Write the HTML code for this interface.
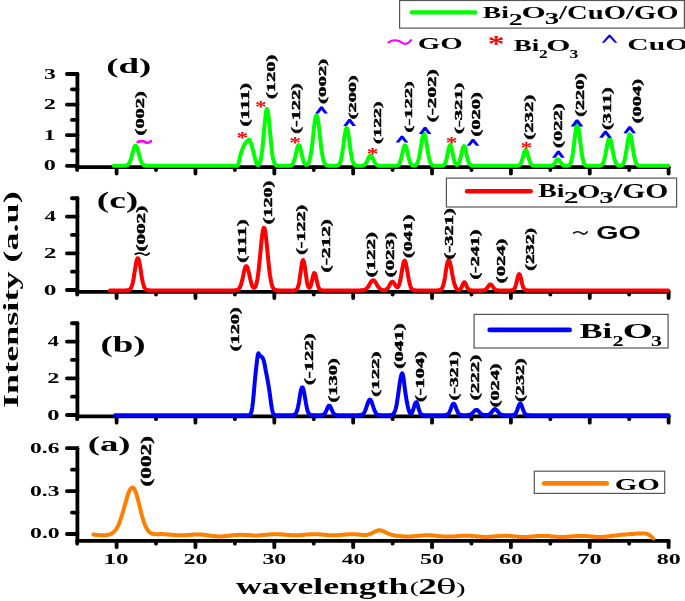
<!DOCTYPE html>
<html><head><meta charset="utf-8"><style>
html,body{margin:0;padding:0;background:#fff;width:685px;height:601px;overflow:hidden}
svg{display:block}
</style></head><body>
<svg width="685" height="601" viewBox="0 0 685 601">
<rect width="685" height="601" fill="#fff"/>
<line x1="77.40" y1="74.00" x2="77.40" y2="167.20" stroke="#000" stroke-width="3.8" stroke-linecap="round"/>
<line x1="77.40" y1="167.20" x2="668.62" y2="167.20" stroke="#000" stroke-width="3.8" stroke-linecap="round"/>
<line x1="66.90" y1="165.80" x2="77.40" y2="165.80" stroke="#000" stroke-width="3.8" stroke-linecap="round"/>
<line x1="66.90" y1="135.20" x2="77.40" y2="135.20" stroke="#000" stroke-width="3.8" stroke-linecap="round"/>
<line x1="66.90" y1="104.60" x2="77.40" y2="104.60" stroke="#000" stroke-width="3.8" stroke-linecap="round"/>
<line x1="66.90" y1="74.00" x2="77.40" y2="74.00" stroke="#000" stroke-width="3.8" stroke-linecap="round"/>
<line x1="71.90" y1="150.50" x2="77.40" y2="150.50" stroke="#000" stroke-width="3.8" stroke-linecap="round"/>
<line x1="71.90" y1="119.90" x2="77.40" y2="119.90" stroke="#000" stroke-width="3.8" stroke-linecap="round"/>
<line x1="71.90" y1="89.30" x2="77.40" y2="89.30" stroke="#000" stroke-width="3.8" stroke-linecap="round"/>
<line x1="77.17" y1="167.20" x2="77.17" y2="170.00" stroke="#000" stroke-width="3.8" stroke-linecap="round"/>
<line x1="116.60" y1="167.20" x2="116.60" y2="173.50" stroke="#000" stroke-width="3.8" stroke-linecap="round"/>
<line x1="156.03" y1="167.20" x2="156.03" y2="170.00" stroke="#000" stroke-width="3.8" stroke-linecap="round"/>
<line x1="195.46" y1="167.20" x2="195.46" y2="173.50" stroke="#000" stroke-width="3.8" stroke-linecap="round"/>
<line x1="234.89" y1="167.20" x2="234.89" y2="170.00" stroke="#000" stroke-width="3.8" stroke-linecap="round"/>
<line x1="274.32" y1="167.20" x2="274.32" y2="173.50" stroke="#000" stroke-width="3.8" stroke-linecap="round"/>
<line x1="313.75" y1="167.20" x2="313.75" y2="170.00" stroke="#000" stroke-width="3.8" stroke-linecap="round"/>
<line x1="353.18" y1="167.20" x2="353.18" y2="173.50" stroke="#000" stroke-width="3.8" stroke-linecap="round"/>
<line x1="392.61" y1="167.20" x2="392.61" y2="170.00" stroke="#000" stroke-width="3.8" stroke-linecap="round"/>
<line x1="432.04" y1="167.20" x2="432.04" y2="173.50" stroke="#000" stroke-width="3.8" stroke-linecap="round"/>
<line x1="471.47" y1="167.20" x2="471.47" y2="170.00" stroke="#000" stroke-width="3.8" stroke-linecap="round"/>
<line x1="510.90" y1="167.20" x2="510.90" y2="173.50" stroke="#000" stroke-width="3.8" stroke-linecap="round"/>
<line x1="550.33" y1="167.20" x2="550.33" y2="170.00" stroke="#000" stroke-width="3.8" stroke-linecap="round"/>
<line x1="589.76" y1="167.20" x2="589.76" y2="173.50" stroke="#000" stroke-width="3.8" stroke-linecap="round"/>
<line x1="629.19" y1="167.20" x2="629.19" y2="170.00" stroke="#000" stroke-width="3.8" stroke-linecap="round"/>
<line x1="668.62" y1="167.20" x2="668.62" y2="173.50" stroke="#000" stroke-width="3.8" stroke-linecap="round"/>
<line x1="77.40" y1="198.25" x2="77.40" y2="291.80" stroke="#000" stroke-width="3.8" stroke-linecap="round"/>
<line x1="77.40" y1="291.80" x2="668.62" y2="291.80" stroke="#000" stroke-width="3.8" stroke-linecap="round"/>
<line x1="66.90" y1="290.00" x2="77.40" y2="290.00" stroke="#000" stroke-width="3.8" stroke-linecap="round"/>
<line x1="66.90" y1="253.30" x2="77.40" y2="253.30" stroke="#000" stroke-width="3.8" stroke-linecap="round"/>
<line x1="66.90" y1="216.60" x2="77.40" y2="216.60" stroke="#000" stroke-width="3.8" stroke-linecap="round"/>
<line x1="71.90" y1="271.65" x2="77.40" y2="271.65" stroke="#000" stroke-width="3.8" stroke-linecap="round"/>
<line x1="71.90" y1="234.95" x2="77.40" y2="234.95" stroke="#000" stroke-width="3.8" stroke-linecap="round"/>
<line x1="71.90" y1="198.25" x2="77.40" y2="198.25" stroke="#000" stroke-width="3.8" stroke-linecap="round"/>
<line x1="77.17" y1="291.80" x2="77.17" y2="294.60" stroke="#000" stroke-width="3.8" stroke-linecap="round"/>
<line x1="116.60" y1="291.80" x2="116.60" y2="298.10" stroke="#000" stroke-width="3.8" stroke-linecap="round"/>
<line x1="156.03" y1="291.80" x2="156.03" y2="294.60" stroke="#000" stroke-width="3.8" stroke-linecap="round"/>
<line x1="195.46" y1="291.80" x2="195.46" y2="298.10" stroke="#000" stroke-width="3.8" stroke-linecap="round"/>
<line x1="234.89" y1="291.80" x2="234.89" y2="294.60" stroke="#000" stroke-width="3.8" stroke-linecap="round"/>
<line x1="274.32" y1="291.80" x2="274.32" y2="298.10" stroke="#000" stroke-width="3.8" stroke-linecap="round"/>
<line x1="313.75" y1="291.80" x2="313.75" y2="294.60" stroke="#000" stroke-width="3.8" stroke-linecap="round"/>
<line x1="353.18" y1="291.80" x2="353.18" y2="298.10" stroke="#000" stroke-width="3.8" stroke-linecap="round"/>
<line x1="392.61" y1="291.80" x2="392.61" y2="294.60" stroke="#000" stroke-width="3.8" stroke-linecap="round"/>
<line x1="432.04" y1="291.80" x2="432.04" y2="298.10" stroke="#000" stroke-width="3.8" stroke-linecap="round"/>
<line x1="471.47" y1="291.80" x2="471.47" y2="294.60" stroke="#000" stroke-width="3.8" stroke-linecap="round"/>
<line x1="510.90" y1="291.80" x2="510.90" y2="298.10" stroke="#000" stroke-width="3.8" stroke-linecap="round"/>
<line x1="550.33" y1="291.80" x2="550.33" y2="294.60" stroke="#000" stroke-width="3.8" stroke-linecap="round"/>
<line x1="589.76" y1="291.80" x2="589.76" y2="298.10" stroke="#000" stroke-width="3.8" stroke-linecap="round"/>
<line x1="629.19" y1="291.80" x2="629.19" y2="294.60" stroke="#000" stroke-width="3.8" stroke-linecap="round"/>
<line x1="668.62" y1="291.80" x2="668.62" y2="298.10" stroke="#000" stroke-width="3.8" stroke-linecap="round"/>
<line x1="77.40" y1="323.25" x2="77.40" y2="416.40" stroke="#000" stroke-width="3.8" stroke-linecap="round"/>
<line x1="77.40" y1="416.40" x2="668.62" y2="416.40" stroke="#000" stroke-width="3.8" stroke-linecap="round"/>
<line x1="66.90" y1="415.00" x2="77.40" y2="415.00" stroke="#000" stroke-width="3.8" stroke-linecap="round"/>
<line x1="66.90" y1="378.30" x2="77.40" y2="378.30" stroke="#000" stroke-width="3.8" stroke-linecap="round"/>
<line x1="66.90" y1="341.60" x2="77.40" y2="341.60" stroke="#000" stroke-width="3.8" stroke-linecap="round"/>
<line x1="71.90" y1="396.65" x2="77.40" y2="396.65" stroke="#000" stroke-width="3.8" stroke-linecap="round"/>
<line x1="71.90" y1="359.95" x2="77.40" y2="359.95" stroke="#000" stroke-width="3.8" stroke-linecap="round"/>
<line x1="71.90" y1="323.25" x2="77.40" y2="323.25" stroke="#000" stroke-width="3.8" stroke-linecap="round"/>
<line x1="77.17" y1="416.40" x2="77.17" y2="419.20" stroke="#000" stroke-width="3.8" stroke-linecap="round"/>
<line x1="116.60" y1="416.40" x2="116.60" y2="422.70" stroke="#000" stroke-width="3.8" stroke-linecap="round"/>
<line x1="156.03" y1="416.40" x2="156.03" y2="419.20" stroke="#000" stroke-width="3.8" stroke-linecap="round"/>
<line x1="195.46" y1="416.40" x2="195.46" y2="422.70" stroke="#000" stroke-width="3.8" stroke-linecap="round"/>
<line x1="234.89" y1="416.40" x2="234.89" y2="419.20" stroke="#000" stroke-width="3.8" stroke-linecap="round"/>
<line x1="274.32" y1="416.40" x2="274.32" y2="422.70" stroke="#000" stroke-width="3.8" stroke-linecap="round"/>
<line x1="313.75" y1="416.40" x2="313.75" y2="419.20" stroke="#000" stroke-width="3.8" stroke-linecap="round"/>
<line x1="353.18" y1="416.40" x2="353.18" y2="422.70" stroke="#000" stroke-width="3.8" stroke-linecap="round"/>
<line x1="392.61" y1="416.40" x2="392.61" y2="419.20" stroke="#000" stroke-width="3.8" stroke-linecap="round"/>
<line x1="432.04" y1="416.40" x2="432.04" y2="422.70" stroke="#000" stroke-width="3.8" stroke-linecap="round"/>
<line x1="471.47" y1="416.40" x2="471.47" y2="419.20" stroke="#000" stroke-width="3.8" stroke-linecap="round"/>
<line x1="510.90" y1="416.40" x2="510.90" y2="422.70" stroke="#000" stroke-width="3.8" stroke-linecap="round"/>
<line x1="550.33" y1="416.40" x2="550.33" y2="419.20" stroke="#000" stroke-width="3.8" stroke-linecap="round"/>
<line x1="589.76" y1="416.40" x2="589.76" y2="422.70" stroke="#000" stroke-width="3.8" stroke-linecap="round"/>
<line x1="629.19" y1="416.40" x2="629.19" y2="419.20" stroke="#000" stroke-width="3.8" stroke-linecap="round"/>
<line x1="668.62" y1="416.40" x2="668.62" y2="422.70" stroke="#000" stroke-width="3.8" stroke-linecap="round"/>
<line x1="77.40" y1="448.20" x2="77.40" y2="540.90" stroke="#000" stroke-width="3.8" stroke-linecap="round"/>
<line x1="77.40" y1="540.90" x2="668.62" y2="540.90" stroke="#000" stroke-width="3.8" stroke-linecap="round"/>
<line x1="66.90" y1="534.00" x2="77.40" y2="534.00" stroke="#000" stroke-width="3.8" stroke-linecap="round"/>
<line x1="66.90" y1="491.10" x2="77.40" y2="491.10" stroke="#000" stroke-width="3.8" stroke-linecap="round"/>
<line x1="66.90" y1="448.20" x2="77.40" y2="448.20" stroke="#000" stroke-width="3.8" stroke-linecap="round"/>
<line x1="71.90" y1="512.55" x2="77.40" y2="512.55" stroke="#000" stroke-width="3.8" stroke-linecap="round"/>
<line x1="71.90" y1="469.65" x2="77.40" y2="469.65" stroke="#000" stroke-width="3.8" stroke-linecap="round"/>
<line x1="77.17" y1="540.90" x2="77.17" y2="543.70" stroke="#000" stroke-width="3.8" stroke-linecap="round"/>
<line x1="116.60" y1="540.90" x2="116.60" y2="547.20" stroke="#000" stroke-width="3.8" stroke-linecap="round"/>
<line x1="156.03" y1="540.90" x2="156.03" y2="543.70" stroke="#000" stroke-width="3.8" stroke-linecap="round"/>
<line x1="195.46" y1="540.90" x2="195.46" y2="547.20" stroke="#000" stroke-width="3.8" stroke-linecap="round"/>
<line x1="234.89" y1="540.90" x2="234.89" y2="543.70" stroke="#000" stroke-width="3.8" stroke-linecap="round"/>
<line x1="274.32" y1="540.90" x2="274.32" y2="547.20" stroke="#000" stroke-width="3.8" stroke-linecap="round"/>
<line x1="313.75" y1="540.90" x2="313.75" y2="543.70" stroke="#000" stroke-width="3.8" stroke-linecap="round"/>
<line x1="353.18" y1="540.90" x2="353.18" y2="547.20" stroke="#000" stroke-width="3.8" stroke-linecap="round"/>
<line x1="392.61" y1="540.90" x2="392.61" y2="543.70" stroke="#000" stroke-width="3.8" stroke-linecap="round"/>
<line x1="432.04" y1="540.90" x2="432.04" y2="547.20" stroke="#000" stroke-width="3.8" stroke-linecap="round"/>
<line x1="471.47" y1="540.90" x2="471.47" y2="543.70" stroke="#000" stroke-width="3.8" stroke-linecap="round"/>
<line x1="510.90" y1="540.90" x2="510.90" y2="547.20" stroke="#000" stroke-width="3.8" stroke-linecap="round"/>
<line x1="550.33" y1="540.90" x2="550.33" y2="543.70" stroke="#000" stroke-width="3.8" stroke-linecap="round"/>
<line x1="589.76" y1="540.90" x2="589.76" y2="547.20" stroke="#000" stroke-width="3.8" stroke-linecap="round"/>
<line x1="629.19" y1="540.90" x2="629.19" y2="543.70" stroke="#000" stroke-width="3.8" stroke-linecap="round"/>
<line x1="668.62" y1="540.90" x2="668.62" y2="547.20" stroke="#000" stroke-width="3.8" stroke-linecap="round"/>
<path d="M113.8,165.8 L114.6,165.8 L115.4,165.8 L116.2,165.8 L117.0,165.8 L117.8,165.8 L118.6,165.8 L119.4,165.8 L120.1,165.8 L120.9,165.8 L121.7,165.8 L122.5,165.8 L123.3,165.8 L124.1,165.8 L124.9,165.7 L125.7,165.7 L126.5,165.5 L127.2,165.2 L128.0,164.7 L128.8,163.8 L129.6,162.5 L130.4,160.6 L131.2,158.2 L132.0,155.4 L132.8,152.3 L133.6,149.4 L134.3,147.2 L135.1,145.8 L135.9,145.7 L136.7,146.8 L137.5,148.9 L138.3,151.7 L139.1,154.8 L139.9,157.7 L140.7,160.2 L141.4,162.2 L142.2,163.6 L143.0,164.5 L143.8,165.1 L144.6,165.5 L145.4,165.6 L146.2,165.7 L147.0,165.8 L147.7,165.8 L148.5,165.8 L149.3,165.8 L150.1,165.8 L150.9,165.8 L151.7,165.8 L152.5,165.8 L153.3,165.8 L154.1,165.8 L154.8,165.8 L155.6,165.8 L156.4,165.8 L157.2,165.8 L158.0,165.8 L158.8,165.8 L159.6,165.8 L160.4,165.8 L161.2,165.8 L161.9,165.8 L162.7,165.8 L163.5,165.8 L164.3,165.8 L165.1,165.8 L165.9,165.8 L166.7,165.8 L167.5,165.8 L168.3,165.8 L169.0,165.8 L169.8,165.8 L170.6,165.8 L171.4,165.8 L172.2,165.8 L173.0,165.8 L173.8,165.8 L174.6,165.8 L175.4,165.8 L176.1,165.8 L176.9,165.8 L177.7,165.8 L178.5,165.8 L179.3,165.8 L180.1,165.8 L180.9,165.8 L181.7,165.8 L182.4,165.8 L183.2,165.8 L184.0,165.8 L184.8,165.8 L185.6,165.8 L186.4,165.8 L187.2,165.8 L188.0,165.8 L188.8,165.8 L189.5,165.8 L190.3,165.8 L191.1,165.8 L191.9,165.8 L192.7,165.8 L193.5,165.8 L194.3,165.8 L195.1,165.8 L195.9,165.8 L196.6,165.8 L197.4,165.8 L198.2,165.8 L199.0,165.8 L199.8,165.8 L200.6,165.8 L201.4,165.8 L202.2,165.8 L203.0,165.8 L203.7,165.8 L204.5,165.8 L205.3,165.8 L206.1,165.8 L206.9,165.8 L207.7,165.8 L208.5,165.8 L209.3,165.8 L210.0,165.8 L210.8,165.8 L211.6,165.8 L212.4,165.8 L213.2,165.8 L214.0,165.8 L214.8,165.8 L215.6,165.8 L216.4,165.8 L217.1,165.8 L217.9,165.8 L218.7,165.8 L219.5,165.8 L220.3,165.8 L221.1,165.8 L221.9,165.8 L222.7,165.8 L223.5,165.8 L224.2,165.8 L225.0,165.8 L225.8,165.8 L226.6,165.8 L227.4,165.8 L228.2,165.8 L229.0,165.8 L229.8,165.8 L230.6,165.8 L231.3,165.8 L232.1,165.8 L232.9,165.8 L233.7,165.8 L234.5,165.8 L235.3,165.8 L236.1,165.8 L236.9,165.8 L237.7,165.3 L238.4,163.8 L239.2,160.6 L240.0,157.0 L240.8,153.7 L241.6,151.3 L242.4,149.1 L243.2,147.3 L244.0,145.7 L244.7,144.3 L245.5,143.0 L246.3,141.9 L247.1,141.1 L247.9,140.5 L248.7,140.0 L249.5,139.8 L250.3,141.5 L251.1,143.6 L251.8,145.9 L252.6,148.7 L253.4,152.0 L254.2,155.3 L255.0,158.4 L255.8,161.4 L256.6,163.6 L257.4,164.8 L258.2,165.1 L258.9,164.2 L259.7,162.8 L260.5,160.3 L261.3,156.3 L262.1,150.8 L262.9,143.5 L263.7,134.9 L264.5,125.9 L265.3,117.7 L266.0,111.7 L266.8,109.0 L267.6,110.1 L268.4,114.9 L269.2,122.4 L270.0,131.3 L270.8,140.2 L271.6,148.0 L272.3,154.3 L273.1,158.9 L273.9,161.9 L274.7,163.8 L275.5,164.8 L276.3,165.3 L277.1,165.6 L277.9,165.7 L278.7,165.8 L279.4,165.8 L280.2,165.8 L281.0,165.8 L281.8,165.8 L282.6,165.8 L283.4,165.8 L284.2,165.8 L285.0,165.8 L285.8,165.8 L286.5,165.8 L287.3,165.8 L288.1,165.8 L288.9,165.8 L289.7,165.7 L290.5,165.6 L291.3,165.3 L292.1,164.7 L292.9,163.7 L293.6,162.1 L294.4,159.7 L295.2,156.7 L296.0,153.2 L296.8,149.7 L297.6,146.8 L298.4,145.2 L299.2,145.2 L299.9,146.8 L300.7,149.7 L301.5,153.2 L302.3,156.7 L303.1,159.7 L303.9,162.1 L304.7,163.6 L305.5,164.5 L306.3,164.9 L307.0,164.7 L307.8,164.1 L308.6,162.8 L309.4,160.7 L310.2,157.6 L311.0,153.2 L311.8,147.6 L312.6,140.9 L313.4,133.7 L314.1,126.7 L314.9,120.7 L315.7,116.7 L316.5,115.3 L317.3,116.7 L318.1,120.7 L318.9,126.7 L319.7,133.7 L320.5,140.9 L321.2,147.6 L322.0,153.2 L322.8,157.6 L323.6,160.7 L324.4,162.8 L325.2,164.2 L326.0,164.9 L326.8,165.4 L327.6,165.6 L328.3,165.7 L329.1,165.8 L329.9,165.8 L330.7,165.8 L331.5,165.8 L332.3,165.8 L333.1,165.8 L333.9,165.8 L334.6,165.8 L335.4,165.8 L336.2,165.7 L337.0,165.6 L337.8,165.4 L338.6,165.0 L339.4,164.1 L340.2,162.5 L341.0,160.1 L341.7,156.5 L342.5,151.7 L343.3,145.9 L344.1,139.7 L344.9,134.0 L345.7,129.8 L346.5,127.9 L347.3,128.7 L348.1,132.1 L348.8,137.3 L349.6,143.4 L350.4,149.4 L351.2,154.7 L352.0,158.8 L352.8,161.7 L353.6,163.6 L354.4,164.7 L355.2,165.3 L355.9,165.6 L356.7,165.7 L357.5,165.8 L358.3,165.8 L359.1,165.8 L359.9,165.8 L360.7,165.8 L361.5,165.7 L362.2,165.7 L363.0,165.5 L363.8,165.2 L364.6,164.6 L365.4,163.8 L366.2,162.7 L367.0,161.2 L367.8,159.5 L368.6,157.9 L369.3,156.5 L370.1,155.8 L370.9,155.8 L371.7,156.5 L372.5,157.9 L373.3,159.5 L374.1,161.2 L374.9,162.7 L375.7,163.8 L376.4,164.6 L377.2,165.2 L378.0,165.5 L378.8,165.7 L379.6,165.7 L380.4,165.8 L381.2,165.8 L382.0,165.8 L382.8,165.8 L383.5,165.8 L384.3,165.8 L385.1,165.8 L385.9,165.8 L386.7,165.8 L387.5,165.8 L388.3,165.8 L389.1,165.8 L389.8,165.8 L390.6,165.8 L391.4,165.8 L392.2,165.8 L393.0,165.8 L393.8,165.8 L394.6,165.8 L395.4,165.8 L396.2,165.7 L396.9,165.6 L397.7,165.3 L398.5,164.7 L399.3,163.6 L400.1,161.9 L400.9,159.4 L401.7,156.2 L402.5,152.6 L403.3,149.2 L404.0,146.5 L404.8,145.3 L405.6,145.9 L406.4,148.0 L407.2,151.2 L408.0,154.8 L408.8,158.2 L409.6,161.0 L410.4,163.0 L411.1,164.3 L411.9,165.1 L412.7,165.5 L413.5,165.6 L414.3,165.6 L415.1,165.4 L415.9,165.0 L416.7,164.2 L417.5,162.8 L418.2,160.7 L419.0,157.7 L419.8,153.7 L420.6,148.9 L421.4,143.8 L422.2,139.0 L423.0,135.5 L423.8,133.8 L424.5,134.2 L425.3,136.7 L426.1,140.8 L426.9,145.8 L427.7,150.8 L428.5,155.4 L429.3,159.0 L430.1,161.7 L430.9,163.5 L431.6,164.6 L432.4,165.2 L433.2,165.5 L434.0,165.7 L434.8,165.8 L435.6,165.8 L436.4,165.8 L437.2,165.8 L438.0,165.8 L438.7,165.8 L439.5,165.8 L440.3,165.8 L441.1,165.8 L441.9,165.7 L442.7,165.6 L443.5,165.3 L444.3,164.7 L445.1,163.5 L445.8,161.5 L446.6,158.5 L447.4,154.8 L448.2,150.8 L449.0,147.3 L449.8,145.3 L450.6,145.3 L451.4,147.3 L452.1,150.8 L452.9,154.8 L453.7,158.5 L454.5,161.5 L455.3,163.4 L456.1,164.5 L456.9,164.9 L457.7,164.7 L458.5,163.9 L459.2,162.4 L460.0,160.0 L460.8,156.8 L461.6,153.2 L462.4,149.7 L463.2,147.1 L464.0,146.2 L464.8,147.1 L465.6,149.7 L466.3,153.2 L467.1,156.8 L467.9,160.0 L468.7,162.4 L469.5,164.0 L470.3,164.9 L471.1,165.4 L471.9,165.7 L472.7,165.7 L473.4,165.8 L474.2,165.8 L475.0,165.8 L475.8,165.8 L476.6,165.8 L477.4,165.8 L478.2,165.8 L479.0,165.8 L479.8,165.8 L480.5,165.8 L481.3,165.8 L482.1,165.8 L482.9,165.8 L483.7,165.8 L484.5,165.8 L485.3,165.8 L486.1,165.8 L486.8,165.8 L487.6,165.8 L488.4,165.8 L489.2,165.8 L490.0,165.8 L490.8,165.8 L491.6,165.8 L492.4,165.8 L493.2,165.8 L493.9,165.8 L494.7,165.8 L495.5,165.8 L496.3,165.8 L497.1,165.8 L497.9,165.8 L498.7,165.8 L499.5,165.8 L500.3,165.8 L501.0,165.8 L501.8,165.8 L502.6,165.8 L503.4,165.8 L504.2,165.8 L505.0,165.8 L505.8,165.8 L506.6,165.8 L507.4,165.8 L508.1,165.8 L508.9,165.8 L509.7,165.8 L510.5,165.8 L511.3,165.8 L512.1,165.8 L512.9,165.8 L513.7,165.8 L514.4,165.8 L515.2,165.8 L516.0,165.8 L516.8,165.8 L517.6,165.7 L518.4,165.6 L519.2,165.2 L520.0,164.6 L520.8,163.5 L521.5,161.8 L522.3,159.3 L523.1,156.5 L523.9,153.5 L524.7,151.1 L525.5,150.0 L526.3,150.3 L527.1,152.0 L527.9,154.7 L528.6,157.6 L529.4,160.4 L530.2,162.5 L531.0,164.0 L531.8,164.9 L532.6,165.4 L533.4,165.6 L534.2,165.7 L535.0,165.8 L535.7,165.8 L536.5,165.8 L537.3,165.8 L538.1,165.8 L538.9,165.8 L539.7,165.8 L540.5,165.8 L541.3,165.8 L542.0,165.8 L542.8,165.8 L543.6,165.8 L544.4,165.8 L545.2,165.8 L546.0,165.8 L546.8,165.8 L547.6,165.8 L548.4,165.8 L549.1,165.8 L549.9,165.8 L550.7,165.7 L551.5,165.6 L552.3,165.4 L553.1,165.0 L553.9,164.3 L554.7,163.3 L555.5,162.0 L556.2,160.8 L557.0,159.8 L557.8,159.4 L558.6,159.7 L559.4,160.5 L560.2,161.8 L561.0,163.0 L561.8,164.1 L562.6,164.9 L563.3,165.3 L564.1,165.6 L564.9,165.7 L565.7,165.8 L566.5,165.8 L567.3,165.7 L568.1,165.6 L568.9,165.3 L569.7,164.7 L570.4,163.5 L571.2,161.5 L572.0,158.4 L572.8,153.8 L573.6,147.9 L574.4,141.1 L575.2,134.2 L576.0,128.3 L576.7,124.7 L577.5,124.0 L578.3,126.5 L579.1,131.6 L579.9,138.3 L580.7,145.3 L581.5,151.6 L582.3,156.7 L583.1,160.4 L583.8,162.9 L584.6,164.3 L585.4,165.1 L586.2,165.5 L587.0,165.7 L587.8,165.8 L588.6,165.8 L589.4,165.8 L590.2,165.8 L590.9,165.8 L591.7,165.8 L592.5,165.8 L593.3,165.8 L594.1,165.8 L594.9,165.8 L595.7,165.8 L596.5,165.8 L597.3,165.8 L598.0,165.8 L598.8,165.7 L599.6,165.7 L600.4,165.5 L601.2,165.2 L602.0,164.6 L602.8,163.5 L603.6,161.9 L604.3,159.4 L605.1,156.1 L605.9,152.1 L606.7,147.8 L607.5,143.6 L608.3,140.3 L609.1,138.5 L609.9,138.5 L610.7,140.3 L611.4,143.6 L612.2,147.8 L613.0,152.1 L613.8,156.1 L614.6,159.4 L615.4,161.9 L616.2,163.5 L617.0,164.6 L617.8,165.2 L618.5,165.5 L619.3,165.6 L620.1,165.7 L620.9,165.6 L621.7,165.3 L622.5,164.7 L623.3,163.6 L624.1,161.8 L624.9,159.0 L625.6,155.1 L626.4,150.4 L627.2,145.1 L628.0,140.1 L628.8,136.3 L629.6,134.4 L630.4,134.9 L631.2,137.6 L632.0,142.0 L632.7,147.2 L633.5,152.4 L634.3,156.8 L635.1,160.2 L635.9,162.6 L636.7,164.1 L637.5,165.0 L638.3,165.4 L639.0,165.6 L639.8,165.7 L640.6,165.8 L641.4,165.8 L642.2,165.8 L643.0,165.8 L643.8,165.8 L644.6,165.8 L645.4,165.8 L646.1,165.8 L646.9,165.8 L647.7,165.8 L648.5,165.8 L649.3,165.8 L650.1,165.8 L650.9,165.8 L651.7,165.8 L652.5,165.8 L653.2,165.8 L654.0,165.8 L654.8,165.8 L655.6,165.8 L656.4,165.8 L657.2,165.8 L658.0,165.8 L658.8,165.8 L659.6,165.8 L660.3,165.8 L661.1,165.8 L661.9,165.8 L662.7,165.8 L663.5,165.8 L664.3,165.8 L665.1,165.8 L665.9,165.8 L666.6,165.8 L667.4,165.8 L668.2,165.8" fill="none" stroke="#00ff00" stroke-width="4.0" stroke-linejoin="round" stroke-linecap="round"/>
<path d="M109.9,290.4 L110.7,290.4 L111.5,290.4 L112.3,290.4 L113.1,290.4 L113.8,290.4 L114.6,290.4 L115.4,290.4 L116.2,290.4 L117.0,290.4 L117.8,290.4 L118.6,290.4 L119.4,290.4 L120.1,290.4 L120.9,290.4 L121.7,290.4 L122.5,290.4 L123.3,290.4 L124.1,290.4 L124.9,290.4 L125.7,290.4 L126.5,290.3 L127.2,290.3 L128.0,290.2 L128.8,290.0 L129.6,289.6 L130.4,288.9 L131.2,287.6 L132.0,285.5 L132.8,282.5 L133.6,278.6 L134.3,273.8 L135.1,268.7 L135.9,263.9 L136.7,260.2 L137.5,258.2 L138.3,258.5 L139.1,260.8 L139.9,264.8 L140.7,269.7 L141.4,274.8 L142.2,279.5 L143.0,283.2 L143.8,286.0 L144.6,287.9 L145.4,289.0 L146.2,289.7 L147.0,290.1 L147.7,290.2 L148.5,290.3 L149.3,290.3 L150.1,290.4 L150.9,290.4 L151.7,290.4 L152.5,290.4 L153.3,290.4 L154.1,290.4 L154.8,290.4 L155.6,290.4 L156.4,290.4 L157.2,290.4 L158.0,290.4 L158.8,290.4 L159.6,290.4 L160.4,290.4 L161.2,290.4 L161.9,290.4 L162.7,290.4 L163.5,290.4 L164.3,290.4 L165.1,290.4 L165.9,290.4 L166.7,290.4 L167.5,290.4 L168.3,290.4 L169.0,290.4 L169.8,290.4 L170.6,290.4 L171.4,290.4 L172.2,290.4 L173.0,290.4 L173.8,290.4 L174.6,290.4 L175.4,290.4 L176.1,290.4 L176.9,290.4 L177.7,290.4 L178.5,290.4 L179.3,290.4 L180.1,290.4 L180.9,290.4 L181.7,290.4 L182.4,290.4 L183.2,290.4 L184.0,290.4 L184.8,290.4 L185.6,290.4 L186.4,290.4 L187.2,290.4 L188.0,290.4 L188.8,290.4 L189.5,290.4 L190.3,290.4 L191.1,290.4 L191.9,290.4 L192.7,290.4 L193.5,290.4 L194.3,290.4 L195.1,290.4 L195.9,290.4 L196.6,290.4 L197.4,290.4 L198.2,290.4 L199.0,290.4 L199.8,290.4 L200.6,290.4 L201.4,290.4 L202.2,290.4 L203.0,290.4 L203.7,290.4 L204.5,290.4 L205.3,290.4 L206.1,290.4 L206.9,290.4 L207.7,290.4 L208.5,290.4 L209.3,290.4 L210.0,290.4 L210.8,290.4 L211.6,290.4 L212.4,290.4 L213.2,290.4 L214.0,290.4 L214.8,290.4 L215.6,290.4 L216.4,290.4 L217.1,290.4 L217.9,290.4 L218.7,290.4 L219.5,290.4 L220.3,290.4 L221.1,290.4 L221.9,290.4 L222.7,290.4 L223.5,290.4 L224.2,290.4 L225.0,290.4 L225.8,290.4 L226.6,290.4 L227.4,290.4 L228.2,290.4 L229.0,290.4 L229.8,290.4 L230.6,290.4 L231.3,290.4 L232.1,290.4 L232.9,290.4 L233.7,290.4 L234.5,290.3 L235.3,290.3 L236.1,290.2 L236.9,290.1 L237.7,289.8 L238.4,289.3 L239.2,288.4 L240.0,287.1 L240.8,285.1 L241.6,282.4 L242.4,279.2 L243.2,275.6 L244.0,271.9 L244.7,268.8 L245.5,266.7 L246.3,266.0 L247.1,266.7 L247.9,268.8 L248.7,271.9 L249.5,275.5 L250.3,279.2 L251.1,282.4 L251.8,284.9 L252.6,286.7 L253.4,287.7 L254.2,287.9 L255.0,287.3 L255.8,285.8 L256.6,283.2 L257.4,279.3 L258.2,274.1 L258.9,267.5 L259.7,259.8 L260.5,251.5 L261.3,243.2 L262.1,235.9 L262.9,230.6 L263.7,227.9 L264.5,228.2 L265.3,231.5 L266.0,237.3 L266.8,244.8 L267.6,253.1 L268.4,261.4 L269.2,269.0 L270.0,275.3 L270.8,280.3 L271.6,283.9 L272.3,286.5 L273.1,288.1 L273.9,289.1 L274.7,289.7 L275.5,290.0 L276.3,290.2 L277.1,290.3 L277.9,290.3 L278.7,290.4 L279.4,290.4 L280.2,290.4 L281.0,290.4 L281.8,290.4 L282.6,290.4 L283.4,290.4 L284.2,290.4 L285.0,290.4 L285.8,290.4 L286.5,290.4 L287.3,290.4 L288.1,290.4 L288.9,290.4 L289.7,290.4 L290.5,290.4 L291.3,290.4 L292.1,290.4 L292.9,290.4 L293.6,290.4 L294.4,290.3 L295.2,290.2 L296.0,289.9 L296.8,289.3 L297.6,288.0 L298.4,285.7 L299.2,282.1 L299.9,277.2 L300.7,271.4 L301.5,265.8 L302.3,261.6 L303.1,260.1 L303.9,261.6 L304.7,265.8 L305.5,271.4 L306.3,277.2 L307.0,282.1 L307.8,285.5 L308.6,287.4 L309.4,287.9 L310.2,287.0 L311.0,284.8 L311.8,281.6 L312.6,277.9 L313.4,274.7 L314.1,273.0 L314.9,273.5 L315.7,275.9 L316.5,279.4 L317.3,283.1 L318.1,286.1 L318.9,288.2 L319.7,289.4 L320.5,290.0 L321.2,290.2 L322.0,290.3 L322.8,290.4 L323.6,290.4 L324.4,290.4 L325.2,290.4 L326.0,290.4 L326.8,290.4 L327.6,290.4 L328.3,290.4 L329.1,290.4 L329.9,290.4 L330.7,290.4 L331.5,290.4 L332.3,290.4 L333.1,290.4 L333.9,290.4 L334.6,290.4 L335.4,290.4 L336.2,290.4 L337.0,290.4 L337.8,290.4 L338.6,290.4 L339.4,290.4 L340.2,290.4 L341.0,290.4 L341.7,290.4 L342.5,290.4 L343.3,290.4 L344.1,290.4 L344.9,290.4 L345.7,290.4 L346.5,290.4 L347.3,290.4 L348.1,290.4 L348.8,290.4 L349.6,290.4 L350.4,290.4 L351.2,290.4 L352.0,290.4 L352.8,290.4 L353.6,290.4 L354.4,290.4 L355.2,290.4 L355.9,290.4 L356.7,290.4 L357.5,290.4 L358.3,290.4 L359.1,290.4 L359.9,290.4 L360.7,290.3 L361.5,290.3 L362.2,290.3 L363.0,290.2 L363.8,290.0 L364.6,289.8 L365.4,289.4 L366.2,288.9 L367.0,288.1 L367.8,287.1 L368.6,286.0 L369.3,284.7 L370.1,283.3 L370.9,282.1 L371.7,281.1 L372.5,280.4 L373.3,280.3 L374.1,280.6 L374.9,281.4 L375.7,282.5 L376.4,283.8 L377.2,285.2 L378.0,286.5 L378.8,287.6 L379.6,288.4 L380.4,289.1 L381.2,289.6 L382.0,289.9 L382.8,290.1 L383.5,290.2 L384.3,290.2 L385.1,290.1 L385.9,289.8 L386.7,289.3 L387.5,288.6 L388.3,287.5 L389.1,286.2 L389.8,284.7 L390.6,283.3 L391.4,282.2 L392.2,281.8 L393.0,282.0 L393.8,282.8 L394.6,284.0 L395.4,285.4 L396.2,286.5 L396.9,287.2 L397.7,287.2 L398.5,286.2 L399.3,284.2 L400.1,281.1 L400.9,277.0 L401.7,272.3 L402.5,267.6 L403.3,263.6 L404.0,261.2 L404.8,260.7 L405.6,262.4 L406.4,265.9 L407.2,270.4 L408.0,275.2 L408.8,279.7 L409.6,283.4 L410.4,286.1 L411.1,288.0 L411.9,289.1 L412.7,289.7 L413.5,290.1 L414.3,290.2 L415.1,290.3 L415.9,290.4 L416.7,290.4 L417.5,290.4 L418.2,290.4 L419.0,290.4 L419.8,290.4 L420.6,290.4 L421.4,290.4 L422.2,290.4 L423.0,290.4 L423.8,290.4 L424.5,290.4 L425.3,290.4 L426.1,290.4 L426.9,290.4 L427.7,290.4 L428.5,290.4 L429.3,290.4 L430.1,290.4 L430.9,290.4 L431.6,290.4 L432.4,290.4 L433.2,290.4 L434.0,290.4 L434.8,290.4 L435.6,290.4 L436.4,290.4 L437.2,290.4 L438.0,290.3 L438.7,290.3 L439.5,290.2 L440.3,289.9 L441.1,289.4 L441.9,288.5 L442.7,286.9 L443.5,284.4 L444.3,280.9 L445.1,276.5 L445.8,271.5 L446.6,266.6 L447.4,262.6 L448.2,260.4 L449.0,260.3 L449.8,262.0 L450.6,265.0 L451.4,269.0 L452.1,273.3 L452.9,277.5 L453.7,281.2 L454.5,284.2 L455.3,286.5 L456.1,288.0 L456.9,289.0 L457.7,289.6 L458.5,289.9 L459.2,289.9 L460.0,289.6 L460.8,288.7 L461.6,287.3 L462.4,285.4 L463.2,283.5 L464.0,282.3 L464.8,282.3 L465.6,283.5 L466.3,285.4 L467.1,287.3 L467.9,288.7 L468.7,289.6 L469.5,290.1 L470.3,290.3 L471.1,290.3 L471.9,290.4 L472.7,290.4 L473.4,290.4 L474.2,290.4 L475.0,290.4 L475.8,290.4 L476.6,290.4 L477.4,290.4 L478.2,290.4 L479.0,290.4 L479.8,290.4 L480.5,290.4 L481.3,290.4 L482.1,290.4 L482.9,290.3 L483.7,290.3 L484.5,290.1 L485.3,289.8 L486.1,289.2 L486.8,288.4 L487.6,287.3 L488.4,286.1 L489.2,285.0 L490.0,284.4 L490.8,284.4 L491.6,285.0 L492.4,286.1 L493.2,287.3 L493.9,288.4 L494.7,289.2 L495.5,289.8 L496.3,290.1 L497.1,290.3 L497.9,290.3 L498.7,290.4 L499.5,290.4 L500.3,290.4 L501.0,290.4 L501.8,290.4 L502.6,290.4 L503.4,290.4 L504.2,290.4 L505.0,290.4 L505.8,290.4 L506.6,290.4 L507.4,290.4 L508.1,290.4 L508.9,290.4 L509.7,290.4 L510.5,290.4 L511.3,290.3 L512.1,290.3 L512.9,290.1 L513.7,289.6 L514.4,288.7 L515.2,287.1 L516.0,284.5 L516.8,281.2 L517.6,277.7 L518.4,275.0 L519.2,274.0 L520.0,275.0 L520.8,277.7 L521.5,281.2 L522.3,284.5 L523.1,287.1 L523.9,288.7 L524.7,289.6 L525.5,290.1 L526.3,290.3 L527.1,290.3 L527.9,290.4 L528.6,290.4 L529.4,290.4 L530.2,290.4 L531.0,290.4 L531.8,290.4 L532.6,290.4 L533.4,290.4 L534.2,290.4 L535.0,290.4 L535.7,290.4 L536.5,290.4 L537.3,290.4 L538.1,290.4 L538.9,290.4 L539.7,290.4 L540.5,290.4 L541.3,290.4 L542.0,290.4 L542.8,290.4 L543.6,290.4 L544.4,290.4 L545.2,290.4 L546.0,290.4 L546.8,290.4 L547.6,290.4 L548.4,290.4 L549.1,290.4 L549.9,290.4 L550.7,290.4 L551.5,290.4 L552.3,290.4 L553.1,290.4 L553.9,290.4 L554.7,290.4 L555.5,290.4 L556.2,290.4 L557.0,290.4 L557.8,290.4 L558.6,290.4 L559.4,290.4 L560.2,290.4 L561.0,290.4 L561.8,290.4 L562.6,290.4 L563.3,290.4 L564.1,290.4 L564.9,290.4 L565.7,290.4 L566.5,290.4 L567.3,290.4 L568.1,290.4 L568.9,290.4 L569.7,290.4 L570.4,290.4 L571.2,290.4 L572.0,290.4 L572.8,290.4 L573.6,290.4 L574.4,290.4 L575.2,290.4 L576.0,290.4 L576.7,290.4 L577.5,290.4 L578.3,290.4 L579.1,290.4 L579.9,290.4 L580.7,290.4 L581.5,290.4 L582.3,290.4 L583.1,290.4 L583.8,290.4 L584.6,290.4 L585.4,290.4 L586.2,290.4 L587.0,290.4 L587.8,290.4 L588.6,290.4 L589.4,290.4 L590.2,290.4 L590.9,290.4 L591.7,290.4 L592.5,290.4 L593.3,290.4 L594.1,290.4 L594.9,290.4 L595.7,290.4 L596.5,290.4 L597.3,290.4 L598.0,290.4 L598.8,290.4 L599.6,290.4 L600.4,290.4 L601.2,290.4 L602.0,290.4 L602.8,290.4 L603.6,290.4 L604.3,290.4 L605.1,290.4 L605.9,290.4 L606.7,290.4 L607.5,290.4 L608.3,290.4 L609.1,290.4 L609.9,290.4 L610.7,290.4 L611.4,290.4 L612.2,290.4 L613.0,290.4 L613.8,290.4 L614.6,290.4 L615.4,290.4 L616.2,290.4 L617.0,290.4 L617.8,290.4 L618.5,290.4 L619.3,290.4 L620.1,290.4 L620.9,290.4 L621.7,290.4 L622.5,290.4 L623.3,290.4 L624.1,290.4 L624.9,290.4 L625.6,290.4 L626.4,290.4 L627.2,290.4 L628.0,290.4 L628.8,290.4 L629.6,290.4 L630.4,290.4 L631.2,290.4 L632.0,290.4 L632.7,290.4 L633.5,290.4 L634.3,290.4 L635.1,290.4 L635.9,290.4 L636.7,290.4 L637.5,290.4 L638.3,290.4 L639.0,290.4 L639.8,290.4 L640.6,290.4 L641.4,290.4 L642.2,290.4 L643.0,290.4 L643.8,290.4 L644.6,290.4 L645.4,290.4 L646.1,290.4 L646.9,290.4 L647.7,290.4 L648.5,290.4 L649.3,290.4 L650.1,290.4 L650.9,290.4 L651.7,290.4 L652.5,290.4 L653.2,290.4 L654.0,290.4 L654.8,290.4 L655.6,290.4 L656.4,290.4 L657.2,290.4 L658.0,290.4 L658.8,290.4 L659.6,290.4 L660.3,290.4 L661.1,290.4 L661.9,290.4 L662.7,290.4 L663.5,290.4 L664.3,290.4 L665.1,290.4 L665.9,290.4 L666.6,290.4 L667.4,290.4 L668.2,290.4" fill="none" stroke="#ff0000" stroke-width="4.0" stroke-linejoin="round" stroke-linecap="round"/>
<path d="M115.0,415.2 L115.8,415.2 L116.6,415.2 L117.4,415.2 L118.2,415.2 L119.0,415.2 L119.8,415.2 L120.5,415.2 L121.3,415.2 L122.1,415.2 L122.9,415.2 L123.7,415.2 L124.5,415.2 L125.3,415.2 L126.1,415.2 L126.9,415.2 L127.6,415.2 L128.4,415.2 L129.2,415.2 L130.0,415.2 L130.8,415.2 L131.6,415.2 L132.4,415.2 L133.2,415.2 L133.9,415.2 L134.7,415.2 L135.5,415.2 L136.3,415.2 L137.1,415.2 L137.9,415.2 L138.7,415.2 L139.5,415.2 L140.3,415.2 L141.0,415.2 L141.8,415.2 L142.6,415.2 L143.4,415.2 L144.2,415.2 L145.0,415.2 L145.8,415.2 L146.6,415.2 L147.4,415.2 L148.1,415.2 L148.9,415.2 L149.7,415.2 L150.5,415.2 L151.3,415.2 L152.1,415.2 L152.9,415.2 L153.7,415.2 L154.5,415.2 L155.2,415.2 L156.0,415.2 L156.8,415.2 L157.6,415.2 L158.4,415.2 L159.2,415.2 L160.0,415.2 L160.8,415.2 L161.6,415.2 L162.3,415.2 L163.1,415.2 L163.9,415.2 L164.7,415.2 L165.5,415.2 L166.3,415.2 L167.1,415.2 L167.9,415.2 L168.6,415.2 L169.4,415.2 L170.2,415.2 L171.0,415.2 L171.8,415.2 L172.6,415.2 L173.4,415.2 L174.2,415.2 L175.0,415.2 L175.7,415.2 L176.5,415.2 L177.3,415.2 L178.1,415.2 L178.9,415.2 L179.7,415.2 L180.5,415.2 L181.3,415.2 L182.1,415.2 L182.8,415.2 L183.6,415.2 L184.4,415.2 L185.2,415.2 L186.0,415.2 L186.8,415.2 L187.6,415.2 L188.4,415.2 L189.2,415.2 L189.9,415.2 L190.7,415.2 L191.5,415.2 L192.3,415.2 L193.1,415.2 L193.9,415.2 L194.7,415.2 L195.5,415.2 L196.2,415.2 L197.0,415.2 L197.8,415.2 L198.6,415.2 L199.4,415.2 L200.2,415.2 L201.0,415.2 L201.8,415.2 L202.6,415.2 L203.3,415.2 L204.1,415.2 L204.9,415.2 L205.7,415.2 L206.5,415.2 L207.3,415.2 L208.1,415.2 L208.9,415.2 L209.7,415.2 L210.4,415.2 L211.2,415.2 L212.0,415.2 L212.8,415.2 L213.6,415.2 L214.4,415.2 L215.2,415.2 L216.0,415.2 L216.8,415.2 L217.5,415.2 L218.3,415.2 L219.1,415.2 L219.9,415.2 L220.7,415.2 L221.5,415.2 L222.3,415.2 L223.1,415.2 L223.8,415.2 L224.6,415.2 L225.4,415.2 L226.2,415.2 L227.0,415.2 L227.8,415.2 L228.6,415.2 L229.4,415.2 L230.2,415.2 L230.9,415.2 L231.7,415.2 L232.5,415.2 L233.3,415.2 L234.1,415.2 L234.9,415.2 L235.7,415.2 L236.5,415.2 L237.3,415.2 L238.0,415.2 L238.8,415.2 L239.6,415.2 L240.4,415.2 L241.2,415.2 L242.0,415.2 L242.8,415.2 L243.6,415.2 L244.4,415.2 L245.1,415.2 L245.9,415.2 L246.7,415.2 L247.5,415.2 L248.3,415.2 L249.1,415.1 L249.9,414.6 L250.7,413.8 L251.5,411.6 L252.2,407.8 L253.0,401.3 L253.8,393.3 L254.6,383.7 L255.4,375.3 L256.2,367.6 L257.0,360.7 L257.8,354.6 L258.5,353.3 L259.3,354.6 L260.1,355.7 L260.9,356.3 L261.7,356.9 L262.5,357.7 L263.3,359.3 L264.1,362.1 L264.9,365.7 L265.6,369.8 L266.4,373.9 L267.2,377.9 L268.0,382.4 L268.8,387.2 L269.6,392.2 L270.4,398.2 L271.2,404.4 L272.0,408.9 L272.7,412.2 L273.5,414.0 L274.3,414.7 L275.1,415.1 L275.9,415.2 L276.7,415.2 L277.5,415.2 L278.3,415.2 L279.1,415.2 L279.8,415.2 L280.6,415.2 L281.4,415.2 L282.2,415.2 L283.0,415.2 L283.8,415.2 L284.6,415.2 L285.4,415.2 L286.1,415.2 L286.9,415.2 L287.7,415.2 L288.5,415.2 L289.3,415.2 L290.1,415.2 L290.9,415.2 L291.7,415.2 L292.5,415.1 L293.2,415.1 L294.0,414.9 L294.8,414.5 L295.6,413.7 L296.4,412.4 L297.2,410.2 L298.0,407.0 L298.8,402.9 L299.6,398.2 L300.3,393.4 L301.1,389.6 L301.9,387.4 L302.7,387.4 L303.5,389.6 L304.3,393.4 L305.1,398.2 L305.9,402.9 L306.7,407.0 L307.4,410.2 L308.2,412.4 L309.0,413.7 L309.8,414.5 L310.6,414.9 L311.4,415.1 L312.2,415.1 L313.0,415.2 L313.8,415.2 L314.5,415.2 L315.3,415.2 L316.1,415.2 L316.9,415.2 L317.7,415.2 L318.5,415.2 L319.3,415.2 L320.1,415.2 L320.8,415.2 L321.6,415.1 L322.4,415.0 L323.2,414.8 L324.0,414.3 L324.8,413.5 L325.6,412.2 L326.4,410.5 L327.2,408.6 L327.9,406.9 L328.7,405.8 L329.5,405.7 L330.3,406.6 L331.1,408.3 L331.9,410.2 L332.7,411.9 L333.5,413.3 L334.3,414.2 L335.0,414.7 L335.8,415.0 L336.6,415.1 L337.4,415.2 L338.2,415.2 L339.0,415.2 L339.8,415.2 L340.6,415.2 L341.4,415.2 L342.1,415.2 L342.9,415.2 L343.7,415.2 L344.5,415.2 L345.3,415.2 L346.1,415.2 L346.9,415.2 L347.7,415.2 L348.4,415.2 L349.2,415.2 L350.0,415.2 L350.8,415.2 L351.6,415.2 L352.4,415.2 L353.2,415.2 L354.0,415.2 L354.8,415.2 L355.5,415.2 L356.3,415.2 L357.1,415.2 L357.9,415.2 L358.7,415.2 L359.5,415.1 L360.3,415.1 L361.1,415.0 L361.9,414.8 L362.6,414.4 L363.4,413.7 L364.2,412.6 L365.0,411.1 L365.8,409.1 L366.6,406.7 L367.4,404.2 L368.2,402.0 L369.0,400.3 L369.7,399.6 L370.5,399.9 L371.3,401.2 L372.1,403.3 L372.9,405.7 L373.7,408.2 L374.5,410.3 L375.3,412.0 L376.0,413.3 L376.8,414.1 L377.6,414.6 L378.4,414.9 L379.2,415.1 L380.0,415.1 L380.8,415.2 L381.6,415.2 L382.4,415.2 L383.1,415.2 L383.9,415.2 L384.7,415.2 L385.5,415.2 L386.3,415.2 L387.1,415.2 L387.9,415.2 L388.7,415.2 L389.5,415.2 L390.2,415.1 L391.0,415.0 L391.8,414.8 L392.6,414.5 L393.4,413.9 L394.2,412.8 L395.0,411.0 L395.8,408.5 L396.6,404.9 L397.3,400.4 L398.1,394.9 L398.9,389.1 L399.7,383.3 L400.5,378.4 L401.3,374.9 L402.1,373.3 L402.9,374.7 L403.7,379.2 L404.4,385.2 L405.2,391.4 L406.0,396.8 L406.8,401.5 L407.6,405.6 L408.4,409.0 L409.2,411.5 L410.0,413.1 L410.7,413.7 L411.5,413.4 L412.3,412.1 L413.1,410.0 L413.9,407.3 L414.7,404.6 L415.5,402.7 L416.3,402.2 L417.1,403.3 L417.8,405.6 L418.6,408.4 L419.4,411.0 L420.2,412.9 L421.0,414.1 L421.8,414.7 L422.6,415.0 L423.4,415.1 L424.2,415.2 L424.9,415.2 L425.7,415.2 L426.5,415.2 L427.3,415.2 L428.1,415.2 L428.9,415.2 L429.7,415.2 L430.5,415.2 L431.3,415.2 L432.0,415.2 L432.8,415.2 L433.6,415.2 L434.4,415.2 L435.2,415.2 L436.0,415.2 L436.8,415.2 L437.6,415.2 L438.3,415.2 L439.1,415.2 L439.9,415.2 L440.7,415.2 L441.5,415.2 L442.3,415.2 L443.1,415.2 L443.9,415.2 L444.7,415.2 L445.4,415.1 L446.2,415.0 L447.0,414.8 L447.8,414.3 L448.6,413.5 L449.4,412.3 L450.2,410.5 L451.0,408.4 L451.8,406.3 L452.5,404.5 L453.3,403.7 L454.1,403.9 L454.9,405.1 L455.7,407.1 L456.5,409.3 L457.3,411.3 L458.1,412.8 L458.9,413.9 L459.6,414.5 L460.4,414.9 L461.2,415.1 L462.0,415.1 L462.8,415.2 L463.6,415.2 L464.4,415.2 L465.2,415.2 L465.9,415.2 L466.7,415.2 L467.5,415.1 L468.3,415.1 L469.1,415.0 L469.9,414.8 L470.7,414.5 L471.5,414.0 L472.3,413.3 L473.0,412.5 L473.8,411.6 L474.6,410.8 L475.4,410.1 L476.2,409.9 L477.0,410.0 L477.8,410.5 L478.6,411.3 L479.4,412.1 L480.1,413.0 L480.9,413.7 L481.7,414.3 L482.5,414.7 L483.3,414.9 L484.1,415.0 L484.9,415.1 L485.7,415.1 L486.5,415.1 L487.2,415.0 L488.0,414.9 L488.8,414.6 L489.6,414.2 L490.4,413.5 L491.2,412.7 L492.0,411.7 L492.8,410.7 L493.6,409.8 L494.3,409.3 L495.1,409.1 L495.9,409.5 L496.7,410.2 L497.5,411.1 L498.3,412.1 L499.1,413.1 L499.9,413.8 L500.6,414.4 L501.4,414.7 L502.2,415.0 L503.0,415.1 L503.8,415.1 L504.6,415.2 L505.4,415.2 L506.2,415.2 L507.0,415.2 L507.7,415.2 L508.5,415.2 L509.3,415.2 L510.1,415.2 L510.9,415.2 L511.7,415.2 L512.5,415.1 L513.3,415.0 L514.1,414.8 L514.8,414.3 L515.6,413.4 L516.4,412.0 L517.2,410.0 L518.0,407.7 L518.8,405.5 L519.6,404.0 L520.4,403.6 L521.2,404.5 L521.9,406.3 L522.7,408.6 L523.5,410.8 L524.3,412.6 L525.1,413.8 L525.9,414.5 L526.7,414.9 L527.5,415.1 L528.2,415.1 L529.0,415.2 L529.8,415.2 L530.6,415.2 L531.4,415.2 L532.2,415.2 L533.0,415.2 L533.8,415.2 L534.6,415.2 L535.3,415.2 L536.1,415.2 L536.9,415.2 L537.7,415.2 L538.5,415.2 L539.3,415.2 L540.1,415.2 L540.9,415.2 L541.7,415.2 L542.4,415.2 L543.2,415.2 L544.0,415.2 L544.8,415.2 L545.6,415.2 L546.4,415.2 L547.2,415.2 L548.0,415.2 L548.8,415.2 L549.5,415.2 L550.3,415.2 L551.1,415.2 L551.9,415.2 L552.7,415.2 L553.5,415.2 L554.3,415.2 L555.1,415.2 L555.9,415.2 L556.6,415.2 L557.4,415.2 L558.2,415.2 L559.0,415.2 L559.8,415.2 L560.6,415.2 L561.4,415.2 L562.2,415.2 L562.9,415.2 L563.7,415.2 L564.5,415.2 L565.3,415.2 L566.1,415.2 L566.9,415.2 L567.7,415.2 L568.5,415.2 L569.3,415.2 L570.0,415.2 L570.8,415.2 L571.6,415.2 L572.4,415.2 L573.2,415.2 L574.0,415.2 L574.8,415.2 L575.6,415.2 L576.4,415.2 L577.1,415.2 L577.9,415.2 L578.7,415.2 L579.5,415.2 L580.3,415.2 L581.1,415.2 L581.9,415.2 L582.7,415.2 L583.5,415.2 L584.2,415.2 L585.0,415.2 L585.8,415.2 L586.6,415.2 L587.4,415.2 L588.2,415.2 L589.0,415.2 L589.8,415.2 L590.5,415.2 L591.3,415.2 L592.1,415.2 L592.9,415.2 L593.7,415.2 L594.5,415.2 L595.3,415.2 L596.1,415.2 L596.9,415.2 L597.6,415.2 L598.4,415.2 L599.2,415.2 L600.0,415.2 L600.8,415.2 L601.6,415.2 L602.4,415.2 L603.2,415.2 L604.0,415.2 L604.7,415.2 L605.5,415.2 L606.3,415.2 L607.1,415.2 L607.9,415.2 L608.7,415.2 L609.5,415.2 L610.3,415.2 L611.1,415.2 L611.8,415.2 L612.6,415.2 L613.4,415.2 L614.2,415.2 L615.0,415.2 L615.8,415.2 L616.6,415.2 L617.4,415.2 L618.1,415.2 L618.9,415.2 L619.7,415.2 L620.5,415.2 L621.3,415.2 L622.1,415.2 L622.9,415.2 L623.7,415.2 L624.5,415.2 L625.2,415.2 L626.0,415.2 L626.8,415.2 L627.6,415.2 L628.4,415.2 L629.2,415.2 L630.0,415.2 L630.8,415.2 L631.6,415.2 L632.3,415.2 L633.1,415.2 L633.9,415.2 L634.7,415.2 L635.5,415.2 L636.3,415.2 L637.1,415.2 L637.9,415.2 L638.7,415.2 L639.4,415.2 L640.2,415.2 L641.0,415.2 L641.8,415.2 L642.6,415.2 L643.4,415.2 L644.2,415.2 L645.0,415.2 L645.8,415.2 L646.5,415.2 L647.3,415.2 L648.1,415.2 L648.9,415.2 L649.7,415.2 L650.5,415.2 L651.3,415.2 L652.1,415.2 L652.8,415.2 L653.6,415.2 L654.4,415.2 L655.2,415.2 L656.0,415.2 L656.8,415.2 L657.6,415.2 L658.4,415.2 L659.2,415.2 L659.9,415.2 L660.7,415.2 L661.5,415.2 L662.3,415.2 L663.1,415.2 L663.9,415.2 L664.7,415.2 L665.5,415.2 L666.3,415.2 L667.0,415.2 L667.8,415.2 L668.6,415.2" fill="none" stroke="#0000ff" stroke-width="4.0" stroke-linejoin="round" stroke-linecap="round"/>
<path d="M93.3,534.6 L94.1,534.6 L94.9,534.7 L95.7,534.8 L96.5,534.9 L97.3,534.9 L98.1,535.0 L98.9,535.1 L99.6,535.1 L100.4,535.2 L101.2,535.2 L102.0,535.2 L102.8,535.2 L103.6,535.2 L104.4,535.2 L105.2,535.2 L106.0,535.1 L106.7,535.0 L107.5,534.9 L108.3,534.8 L109.1,534.6 L109.9,534.3 L110.7,534.0 L111.5,533.6 L112.3,533.2 L113.1,532.6 L113.8,531.9 L114.6,531.1 L115.4,530.2 L116.2,529.1 L117.0,527.8 L117.8,526.3 L118.6,524.6 L119.4,522.8 L120.1,520.7 L120.9,518.4 L121.7,516.0 L122.5,513.3 L123.3,510.6 L124.1,507.8 L124.9,505.0 L125.7,502.1 L126.5,499.4 L127.2,496.8 L128.0,494.4 L128.8,492.3 L129.6,490.5 L130.4,489.1 L131.2,488.1 L132.0,487.6 L132.8,487.5 L133.6,488.0 L134.3,489.0 L135.1,490.6 L135.9,492.7 L136.7,495.1 L137.5,497.9 L138.3,500.9 L139.1,504.0 L139.9,507.2 L140.7,510.4 L141.4,513.5 L142.2,516.5 L143.0,519.2 L143.8,521.7 L144.6,523.9 L145.4,525.9 L146.2,527.6 L147.0,529.0 L147.7,530.2 L148.5,531.2 L149.3,532.0 L150.1,532.6 L150.9,533.1 L151.7,533.5 L152.5,533.7 L153.3,533.9 L154.1,534.0 L154.8,534.1 L155.6,534.2 L156.4,534.2 L157.2,534.2 L158.0,534.2 L158.8,534.2 L159.6,534.1 L160.4,534.1 L161.2,534.1 L161.9,534.1 L162.7,534.1 L163.5,534.2 L164.3,534.2 L165.1,534.2 L165.9,534.3 L166.7,534.3 L167.5,534.4 L168.3,534.5 L169.0,534.5 L169.8,534.6 L170.6,534.7 L171.4,534.7 L172.2,534.8 L173.0,534.9 L173.8,535.0 L174.6,535.0 L175.4,535.1 L176.1,535.1 L176.9,535.2 L177.7,535.2 L178.5,535.3 L179.3,535.3 L180.1,535.3 L180.9,535.3 L181.7,535.3 L182.4,535.3 L183.2,535.3 L184.0,535.3 L184.8,535.2 L185.6,535.2 L186.4,535.1 L187.2,535.1 L188.0,535.0 L188.8,535.0 L189.5,534.9 L190.3,534.8 L191.1,534.8 L191.9,534.7 L192.7,534.7 L193.5,534.6 L194.3,534.6 L195.1,534.5 L195.9,534.5 L196.6,534.5 L197.4,534.5 L198.2,534.5 L199.0,534.5 L199.8,534.5 L200.6,534.6 L201.4,534.6 L202.2,534.7 L203.0,534.7 L203.7,534.8 L204.5,534.9 L205.3,535.0 L206.1,535.1 L206.9,535.2 L207.7,535.3 L208.5,535.4 L209.3,535.5 L210.0,535.6 L210.8,535.7 L211.6,535.8 L212.4,535.9 L213.2,536.0 L214.0,536.1 L214.8,536.2 L215.6,536.2 L216.4,536.3 L217.1,536.3 L217.9,536.4 L218.7,536.4 L219.5,536.4 L220.3,536.4 L221.1,536.4 L221.9,536.4 L222.7,536.3 L223.5,536.3 L224.2,536.2 L225.0,536.1 L225.8,536.1 L226.6,536.0 L227.4,535.9 L228.2,535.8 L229.0,535.7 L229.8,535.6 L230.6,535.5 L231.3,535.4 L232.1,535.3 L232.9,535.3 L233.7,535.2 L234.5,535.1 L235.3,535.0 L236.1,535.0 L236.9,534.9 L237.7,534.9 L238.4,534.9 L239.2,534.8 L240.0,534.8 L240.8,534.8 L241.6,534.8 L242.4,534.8 L243.2,534.9 L244.0,534.9 L244.7,534.9 L245.5,535.0 L246.3,535.0 L247.1,535.0 L247.9,535.1 L248.7,535.1 L249.5,535.2 L250.3,535.2 L251.1,535.3 L251.8,535.3 L252.6,535.4 L253.4,535.4 L254.2,535.4 L255.0,535.4 L255.8,535.4 L256.6,535.4 L257.4,535.4 L258.2,535.4 L258.9,535.3 L259.7,535.3 L260.5,535.3 L261.3,535.2 L262.1,535.1 L262.9,535.1 L263.7,535.0 L264.5,534.9 L265.3,534.9 L266.0,534.8 L266.8,534.7 L267.6,534.6 L268.4,534.6 L269.2,534.5 L270.0,534.4 L270.8,534.4 L271.6,534.3 L272.3,534.3 L273.1,534.2 L273.9,534.2 L274.7,534.2 L275.5,534.2 L276.3,534.2 L277.1,534.2 L277.9,534.2 L278.7,534.2 L279.4,534.2 L280.2,534.3 L281.0,534.3 L281.8,534.4 L282.6,534.5 L283.4,534.5 L284.2,534.6 L285.0,534.7 L285.8,534.7 L286.5,534.8 L287.3,534.9 L288.1,535.0 L288.9,535.0 L289.7,535.1 L290.5,535.1 L291.3,535.2 L292.1,535.2 L292.9,535.3 L293.6,535.3 L294.4,535.3 L295.2,535.3 L296.0,535.3 L296.8,535.3 L297.6,535.2 L298.4,535.2 L299.2,535.2 L299.9,535.1 L300.7,535.1 L301.5,535.0 L302.3,534.9 L303.1,534.9 L303.9,534.8 L304.7,534.7 L305.5,534.6 L306.3,534.6 L307.0,534.5 L307.8,534.4 L308.6,534.4 L309.4,534.3 L310.2,534.3 L311.0,534.2 L311.8,534.2 L312.6,534.2 L313.4,534.2 L314.1,534.2 L314.9,534.2 L315.7,534.2 L316.5,534.2 L317.3,534.2 L318.1,534.3 L318.9,534.3 L319.7,534.4 L320.5,534.5 L321.2,534.5 L322.0,534.6 L322.8,534.7 L323.6,534.7 L324.4,534.8 L325.2,534.9 L326.0,535.0 L326.8,535.0 L327.6,535.1 L328.3,535.2 L329.1,535.2 L329.9,535.3 L330.7,535.3 L331.5,535.3 L332.3,535.3 L333.1,535.3 L333.9,535.3 L334.6,535.3 L335.4,535.3 L336.2,535.3 L337.0,535.2 L337.8,535.2 L338.6,535.1 L339.4,535.1 L340.2,535.0 L341.0,534.9 L341.7,534.9 L342.5,534.8 L343.3,534.7 L344.1,534.7 L344.9,534.6 L345.7,534.5 L346.5,534.5 L347.3,534.4 L348.1,534.4 L348.8,534.3 L349.6,534.3 L350.4,534.3 L351.2,534.3 L352.0,534.3 L352.8,534.3 L353.6,534.3 L354.4,534.3 L355.2,534.3 L355.9,534.4 L356.7,534.4 L357.5,534.5 L358.3,534.5 L359.1,534.6 L359.9,534.7 L360.7,534.7 L361.5,534.8 L362.2,534.9 L363.0,534.9 L363.8,534.9 L364.6,534.9 L365.4,534.9 L366.2,534.9 L367.0,534.8 L367.8,534.6 L368.6,534.5 L369.3,534.2 L370.1,534.0 L370.9,533.7 L371.7,533.3 L372.5,532.9 L373.3,532.5 L374.1,532.1 L374.9,531.7 L375.7,531.3 L376.4,530.9 L377.2,530.7 L378.0,530.5 L378.8,530.3 L379.6,530.3 L380.4,530.4 L381.2,530.5 L382.0,530.7 L382.8,531.0 L383.5,531.3 L384.3,531.7 L385.1,532.1 L385.9,532.5 L386.7,532.9 L387.5,533.3 L388.3,533.7 L389.1,534.0 L389.8,534.3 L390.6,534.5 L391.4,534.8 L392.2,535.0 L393.0,535.1 L393.8,535.3 L394.6,535.4 L395.4,535.6 L396.2,535.7 L396.9,535.8 L397.7,535.9 L398.5,536.0 L399.3,536.0 L400.1,536.1 L400.9,536.2 L401.7,536.3 L402.5,536.3 L403.3,536.4 L404.0,536.4 L404.8,536.5 L405.6,536.5 L406.4,536.5 L407.2,536.5 L408.0,536.5 L408.8,536.5 L409.6,536.5 L410.4,536.5 L411.1,536.4 L411.9,536.4 L412.7,536.3 L413.5,536.3 L414.3,536.2 L415.1,536.1 L415.9,536.1 L416.7,536.0 L417.5,535.9 L418.2,535.8 L419.0,535.8 L419.8,535.7 L420.6,535.6 L421.4,535.5 L422.2,535.5 L423.0,535.4 L423.8,535.4 L424.5,535.3 L425.3,535.3 L426.1,535.3 L426.9,535.2 L427.7,535.2 L428.5,535.2 L429.3,535.3 L430.1,535.3 L430.9,535.3 L431.6,535.4 L432.4,535.4 L433.2,535.5 L434.0,535.5 L434.8,535.6 L435.6,535.7 L436.4,535.8 L437.2,535.9 L438.0,535.9 L438.7,536.0 L439.5,536.1 L440.3,536.2 L441.1,536.3 L441.9,536.3 L442.7,536.4 L443.5,536.5 L444.3,536.5 L445.1,536.6 L445.8,536.6 L446.6,536.6 L447.4,536.6 L448.2,536.6 L449.0,536.6 L449.8,536.6 L450.6,536.6 L451.4,536.6 L452.1,536.5 L452.9,536.5 L453.7,536.4 L454.5,536.4 L455.3,536.3 L456.1,536.2 L456.9,536.2 L457.7,536.1 L458.5,536.0 L459.2,536.0 L460.0,535.9 L460.8,535.9 L461.6,535.8 L462.4,535.8 L463.2,535.7 L464.0,535.7 L464.8,535.7 L465.6,535.7 L466.3,535.7 L467.1,535.7 L467.9,535.7 L468.7,535.7 L469.5,535.8 L470.3,535.8 L471.1,535.9 L471.9,535.9 L472.7,536.0 L473.4,536.1 L474.2,536.1 L475.0,536.2 L475.8,536.3 L476.6,536.4 L477.4,536.4 L478.2,536.5 L479.0,536.6 L479.8,536.6 L480.5,536.7 L481.3,536.8 L482.1,536.8 L482.9,536.9 L483.7,536.9 L484.5,536.9 L485.3,536.9 L486.1,536.9 L486.8,536.9 L487.6,536.9 L488.4,536.9 L489.2,536.8 L490.0,536.8 L490.8,536.7 L491.6,536.7 L492.4,536.6 L493.2,536.5 L493.9,536.5 L494.7,536.4 L495.5,536.3 L496.3,536.3 L497.1,536.2 L497.9,536.1 L498.7,536.1 L499.5,536.0 L500.3,536.0 L501.0,535.9 L501.8,535.9 L502.6,535.8 L503.4,535.8 L504.2,535.8 L505.0,535.8 L505.8,535.8 L506.6,535.9 L507.4,535.9 L508.1,535.9 L508.9,536.0 L509.7,536.0 L510.5,536.1 L511.3,536.1 L512.1,536.2 L512.9,536.3 L513.7,536.4 L514.4,536.4 L515.2,536.5 L516.0,536.6 L516.8,536.6 L517.6,536.7 L518.4,536.8 L519.2,536.8 L520.0,536.9 L520.8,536.9 L521.5,536.9 L522.3,537.0 L523.1,537.0 L523.9,537.0 L524.7,537.0 L525.5,537.0 L526.3,536.9 L527.1,536.9 L527.9,536.9 L528.6,536.8 L529.4,536.8 L530.2,536.7 L531.0,536.6 L531.8,536.6 L532.6,536.5 L533.4,536.4 L534.2,536.3 L535.0,536.3 L535.7,536.2 L536.5,536.1 L537.3,536.1 L538.1,536.0 L538.9,536.0 L539.7,535.9 L540.5,535.9 L541.3,535.9 L542.0,535.9 L542.8,535.9 L543.6,535.9 L544.4,535.9 L545.2,535.9 L546.0,535.9 L546.8,536.0 L547.6,536.0 L548.4,536.1 L549.1,536.1 L549.9,536.2 L550.7,536.3 L551.5,536.4 L552.3,536.4 L553.1,536.5 L553.9,536.6 L554.7,536.6 L555.5,536.7 L556.2,536.8 L557.0,536.8 L557.8,536.9 L558.6,536.9 L559.4,537.0 L560.2,537.0 L561.0,537.0 L561.8,537.0 L562.6,537.0 L563.3,537.0 L564.1,537.0 L564.9,536.9 L565.7,536.9 L566.5,536.8 L567.3,536.8 L568.1,536.7 L568.9,536.7 L569.7,536.6 L570.4,536.5 L571.2,536.4 L572.0,536.4 L572.8,536.3 L573.6,536.2 L574.4,536.2 L575.2,536.1 L576.0,536.0 L576.7,536.0 L577.5,535.9 L578.3,535.9 L579.1,535.9 L579.9,535.9 L580.7,535.9 L581.5,535.9 L582.3,535.9 L583.1,535.9 L583.8,535.9 L584.6,536.0 L585.4,536.0 L586.2,536.1 L587.0,536.1 L587.8,536.2 L588.6,536.3 L589.4,536.3 L590.2,536.4 L590.9,536.5 L591.7,536.6 L592.5,536.6 L593.3,536.7 L594.1,536.8 L594.9,536.8 L595.7,536.9 L596.5,536.9 L597.3,536.9 L598.0,537.0 L598.8,537.0 L599.6,537.0 L600.4,537.0 L601.2,537.0 L602.0,536.9 L602.8,536.9 L603.6,536.9 L604.3,536.8 L605.1,536.7 L605.9,536.7 L606.7,536.6 L607.5,536.5 L608.3,536.4 L609.1,536.3 L609.9,536.2 L610.7,536.1 L611.4,536.0 L612.2,535.9 L613.0,535.8 L613.8,535.7 L614.6,535.6 L615.4,535.5 L616.2,535.4 L617.0,535.3 L617.8,535.2 L618.5,535.1 L619.3,535.0 L620.1,534.9 L620.9,534.8 L621.7,534.7 L622.5,534.7 L623.3,534.6 L624.1,534.5 L624.9,534.5 L625.6,534.4 L626.4,534.4 L627.2,534.3 L628.0,534.2 L628.8,534.2 L629.6,534.1 L630.4,534.1 L631.2,534.0 L632.0,534.0 L632.7,533.9 L633.5,533.9 L634.3,533.8 L635.1,533.8 L635.9,533.7 L636.7,533.7 L637.5,533.6 L638.3,533.6 L639.0,533.6 L639.8,533.5 L640.6,533.5 L641.4,533.5 L642.2,533.5 L643.0,533.5 L643.8,533.5 L644.6,533.5 L645.4,533.6 L646.1,533.7 L646.9,533.9 L647.7,534.2 L648.5,534.6 L649.3,535.1 L650.1,535.6 L650.9,536.2 L651.7,536.9 L652.5,537.7 L653.2,538.5" fill="none" stroke="#ff8000" stroke-width="4.0" stroke-linejoin="round" stroke-linecap="round"/>
<text transform="translate(103.48,563.85) scale(1.720,1)" font-family="Liberation Serif, serif" font-weight="bold" font-size="14.67" fill="#000">10</text>
<text transform="translate(183.39,563.85) scale(1.645,1)" font-family="Liberation Serif, serif" font-weight="bold" font-size="14.67" fill="#000">20</text>
<text transform="translate(262.38,563.85) scale(1.636,1)" font-family="Liberation Serif, serif" font-weight="bold" font-size="14.67" fill="#000">30</text>
<text transform="translate(341.73,563.85) scale(1.602,1)" font-family="Liberation Serif, serif" font-weight="bold" font-size="14.67" fill="#000">40</text>
<text transform="translate(419.97,563.85) scale(1.645,1)" font-family="Liberation Serif, serif" font-weight="bold" font-size="14.67" fill="#000">50</text>
<text transform="translate(498.96,563.85) scale(1.636,1)" font-family="Liberation Serif, serif" font-weight="bold" font-size="14.67" fill="#000">60</text>
<text transform="translate(577.31,563.85) scale(1.673,1)" font-family="Liberation Serif, serif" font-weight="bold" font-size="14.67" fill="#000">70</text>
<text transform="translate(656.68,563.85) scale(1.636,1)" font-family="Liberation Serif, serif" font-weight="bold" font-size="14.67" fill="#000">80</text>
<text transform="translate(43.97,78.65) scale(1.558,1)" font-family="Liberation Serif, serif" font-weight="bold" font-size="15.22" fill="#000">3</text>
<text transform="translate(43.83,109.40) scale(1.571,1)" font-family="Liberation Serif, serif" font-weight="bold" font-size="15.45" fill="#000">2</text>
<text transform="translate(43.64,140.00) scale(1.598,1)" font-family="Liberation Serif, serif" font-weight="bold" font-size="14.55" fill="#000">1</text>
<text transform="translate(43.83,170.45) scale(1.623,1)" font-family="Liberation Serif, serif" font-weight="bold" font-size="14.96" fill="#000">0</text>
<text transform="translate(44.45,221.30) scale(1.582,1)" font-family="Liberation Serif, serif" font-weight="bold" font-size="14.55" fill="#000">4</text>
<text transform="translate(43.78,258.30) scale(1.681,1)" font-family="Liberation Serif, serif" font-weight="bold" font-size="15.15" fill="#000">2</text>
<text transform="translate(43.78,294.55) scale(1.720,1)" font-family="Liberation Serif, serif" font-weight="bold" font-size="14.81" fill="#000">0</text>
<text transform="translate(47.87,346.30) scale(1.572,1)" font-family="Liberation Serif, serif" font-weight="bold" font-size="14.09" fill="#000">4</text>
<text transform="translate(47.22,383.30) scale(1.686,1)" font-family="Liberation Serif, serif" font-weight="bold" font-size="14.55" fill="#000">2</text>
<text transform="translate(47.22,419.55) scale(1.655,1)" font-family="Liberation Serif, serif" font-weight="bold" font-size="14.81" fill="#000">0</text>
<text transform="translate(30.06,452.57) scale(1.526,1)" font-family="Liberation Serif, serif" font-weight="bold" font-size="15.44" fill="#000">0.6</text>
<text transform="translate(30.05,495.79) scale(1.659,1)" font-family="Liberation Serif, serif" font-weight="bold" font-size="14.26" fill="#000">0.3</text>
<text transform="translate(30.05,538.28) scale(1.600,1)" font-family="Liberation Serif, serif" font-weight="bold" font-size="14.85" fill="#000">0.0</text>
<text transform="translate(106.14,72.92) scale(1.732,1)" font-family="Liberation Serif, serif" font-weight="bold" font-size="21.32" fill="#000">(d)</text>
<text transform="translate(96.72,208.05) scale(1.691,1)" font-family="Liberation Serif, serif" font-weight="bold" font-size="22.09" fill="#000">(c)</text>
<text transform="translate(100.44,352.03) scale(1.663,1)" font-family="Liberation Serif, serif" font-weight="bold" font-size="22.20" fill="#000">(b)</text>
<text transform="translate(87.65,451.46) scale(1.742,1)" font-family="Liberation Serif, serif" font-weight="bold" font-size="21.10" fill="#000">(a)</text>
<text transform="translate(18.05,407.96) rotate(-90) scale(1.668,1)" font-family="Liberation Serif, serif" font-weight="bold" font-size="21.65" fill="#000">Intensity (a.u)</text>
<text transform="translate(236.10,593.63) scale(1.545,1)" font-family="Liberation Serif, serif" font-weight="bold" font-size="23.06" fill="#000">wavelength</text>
<text transform="translate(409.65,593.30) scale(1.574,1)" font-family="Liberation Serif, serif" font-weight="normal" font-size="17.69" fill="#000">(</text>
<text transform="translate(418.20,594.30) scale(1.656,1)" font-family="Liberation Serif, serif" font-weight="bold" font-size="22.58" fill="#000">2</text>
<text transform="translate(435.73,594.37) scale(1.922,1)" font-family="Liberation Serif, serif" font-weight="normal" font-size="22.82" fill="#000">θ</text>
<text transform="translate(455.71,593.64) scale(1.695,1)" font-family="Liberation Serif, serif" font-weight="normal" font-size="17.47" fill="#000">)</text>
<text transform="translate(143.94,135.42) rotate(-90) scale(1.589,1)" font-family="Liberation Serif, serif" font-weight="bold" font-size="12.86" fill="#000" stroke="#000" stroke-width="0.45">(002)</text>
<text transform="translate(249.15,126.45) rotate(-90) scale(1.788,1)" font-family="Liberation Serif, serif" font-weight="bold" font-size="11.87" fill="#000" stroke="#000" stroke-width="0.45">(111)</text>
<text transform="translate(274.64,99.12) rotate(-90) scale(1.593,1)" font-family="Liberation Serif, serif" font-weight="bold" font-size="12.86" fill="#000" stroke="#000" stroke-width="0.45">(120)</text>
<text transform="translate(300.35,133.81) rotate(-90) scale(1.649,1)" font-family="Liberation Serif, serif" font-weight="bold" font-size="12.31" fill="#000" stroke="#000" stroke-width="0.45">(-122)</text>
<text transform="translate(325.64,103.94) rotate(-90) scale(1.899,1)" font-family="Liberation Serif, serif" font-weight="bold" font-size="10.99" fill="#000" stroke="#000" stroke-width="0.45">(002)</text>
<text transform="translate(356.39,119.32) rotate(-90) scale(1.819,1)" font-family="Liberation Serif, serif" font-weight="bold" font-size="11.21" fill="#000" stroke="#000" stroke-width="0.45">(200)</text>
<text transform="translate(381.19,144.08) rotate(-90) scale(1.754,1)" font-family="Liberation Serif, serif" font-weight="bold" font-size="11.21" fill="#000" stroke="#000" stroke-width="0.45">(122)</text>
<text transform="translate(411.87,132.43) rotate(-90) scale(1.818,1)" font-family="Liberation Serif, serif" font-weight="bold" font-size="11.32" fill="#000" stroke="#000" stroke-width="0.45">(-122)</text>
<text transform="translate(436.26,122.25) rotate(-90) scale(1.663,1)" font-family="Liberation Serif, serif" font-weight="bold" font-size="12.75" fill="#000" stroke="#000" stroke-width="0.45">(-202)</text>
<text transform="translate(461.57,133.93) rotate(-90) scale(1.818,1)" font-family="Liberation Serif, serif" font-weight="bold" font-size="11.32" fill="#000" stroke="#000" stroke-width="0.45">(-321)</text>
<text transform="translate(480.28,136.52) rotate(-90) scale(1.624,1)" font-family="Liberation Serif, serif" font-weight="bold" font-size="12.64" fill="#000" stroke="#000" stroke-width="0.45">(020)</text>
<text transform="translate(533.32,139.74) rotate(-90) scale(1.553,1)" font-family="Liberation Serif, serif" font-weight="bold" font-size="13.41" fill="#000" stroke="#000" stroke-width="0.45">(232)</text>
<text transform="translate(562.16,147.92) rotate(-90) scale(1.557,1)" font-family="Liberation Serif, serif" font-weight="bold" font-size="13.19" fill="#000" stroke="#000" stroke-width="0.45">(022)</text>
<text transform="translate(583.62,116.71) rotate(-90) scale(1.506,1)" font-family="Liberation Serif, serif" font-weight="bold" font-size="13.41" fill="#000" stroke="#000" stroke-width="0.45">(220)</text>
<text transform="translate(610.94,129.91) rotate(-90) scale(1.575,1)" font-family="Liberation Serif, serif" font-weight="bold" font-size="12.86" fill="#000" stroke="#000" stroke-width="0.45">(311)</text>
<text transform="translate(641.28,123.32) rotate(-90) scale(1.624,1)" font-family="Liberation Serif, serif" font-weight="bold" font-size="12.64" fill="#000" stroke="#000" stroke-width="0.45">(004)</text>
<text transform="translate(145.03,251.55) rotate(-90) scale(1.700,1)" font-family="Liberation Serif, serif" font-weight="bold" font-size="12.42" fill="#000" stroke="#000" stroke-width="0.45">(002)</text>
<text transform="translate(245.95,262.85) rotate(-90) scale(1.724,1)" font-family="Liberation Serif, serif" font-weight="bold" font-size="12.31" fill="#000" stroke="#000" stroke-width="0.45">(111)</text>
<text transform="translate(271.63,224.30) rotate(-90) scale(1.618,1)" font-family="Liberation Serif, serif" font-weight="bold" font-size="12.42" fill="#000" stroke="#000" stroke-width="0.45">(120)</text>
<text transform="translate(304.63,254.80) rotate(-90) scale(1.611,1)" font-family="Liberation Serif, serif" font-weight="bold" font-size="12.42" fill="#000" stroke="#000" stroke-width="0.45">(-122)</text>
<text transform="translate(330.33,272.46) rotate(-90) scale(1.721,1)" font-family="Liberation Serif, serif" font-weight="bold" font-size="12.42" fill="#000" stroke="#000" stroke-width="0.45">(-212)</text>
<text transform="translate(375.40,277.24) rotate(-90) scale(1.787,1)" font-family="Liberation Serif, serif" font-weight="bold" font-size="11.65" fill="#000" stroke="#000" stroke-width="0.45">(122)</text>
<text transform="translate(393.62,277.24) rotate(-90) scale(1.738,1)" font-family="Liberation Serif, serif" font-weight="bold" font-size="11.98" fill="#000" stroke="#000" stroke-width="0.45">(023)</text>
<text transform="translate(412.23,257.90) rotate(-90) scale(1.614,1)" font-family="Liberation Serif, serif" font-weight="bold" font-size="12.42" fill="#000" stroke="#000" stroke-width="0.45">(041)</text>
<text transform="translate(453.25,259.42) rotate(-90) scale(1.731,1)" font-family="Liberation Serif, serif" font-weight="bold" font-size="11.87" fill="#000" stroke="#000" stroke-width="0.45">(-321)</text>
<text transform="translate(478.50,279.60) rotate(-90) scale(1.721,1)" font-family="Liberation Serif, serif" font-weight="bold" font-size="11.65" fill="#000" stroke="#000" stroke-width="0.45">(-241)</text>
<text transform="translate(505.45,283.23) rotate(-90) scale(1.738,1)" font-family="Liberation Serif, serif" font-weight="bold" font-size="11.87" fill="#000" stroke="#000" stroke-width="0.45">(024)</text>
<text transform="translate(534.05,270.69) rotate(-90) scale(1.669,1)" font-family="Liberation Serif, serif" font-weight="bold" font-size="11.87" fill="#000" stroke="#000" stroke-width="0.45">(232)</text>
<text transform="translate(239.25,351.22) rotate(-90) scale(1.652,1)" font-family="Liberation Serif, serif" font-weight="bold" font-size="12.31" fill="#000" stroke="#000" stroke-width="0.45">(120)</text>
<text transform="translate(313.25,385.03) rotate(-90) scale(1.745,1)" font-family="Liberation Serif, serif" font-weight="bold" font-size="11.87" fill="#000" stroke="#000" stroke-width="0.45">(-122)</text>
<text transform="translate(337.12,402.42) rotate(-90) scale(1.767,1)" font-family="Liberation Serif, serif" font-weight="bold" font-size="11.54" fill="#000" stroke="#000" stroke-width="0.45">(130)</text>
<text transform="translate(379.07,396.64) rotate(-90) scale(1.839,1)" font-family="Liberation Serif, serif" font-weight="bold" font-size="11.32" fill="#000" stroke="#000" stroke-width="0.45">(122)</text>
<text transform="translate(403.10,368.75) rotate(-90) scale(1.808,1)" font-family="Liberation Serif, serif" font-weight="bold" font-size="11.65" fill="#000" stroke="#000" stroke-width="0.45">(041)</text>
<text transform="translate(424.10,401.91) rotate(-90) scale(1.745,1)" font-family="Liberation Serif, serif" font-weight="bold" font-size="11.65" fill="#000" stroke="#000" stroke-width="0.45">(-104)</text>
<text transform="translate(457.50,400.18) rotate(-90) scale(1.685,1)" font-family="Liberation Serif, serif" font-weight="bold" font-size="11.65" fill="#000" stroke="#000" stroke-width="0.45">(-321)</text>
<text transform="translate(479.26,400.25) rotate(-90) scale(1.652,1)" font-family="Liberation Serif, serif" font-weight="bold" font-size="12.75" fill="#000" stroke="#000" stroke-width="0.45">(222)</text>
<text transform="translate(499.26,407.31) rotate(-90) scale(1.588,1)" font-family="Liberation Serif, serif" font-weight="bold" font-size="12.75" fill="#000" stroke="#000" stroke-width="0.45">(024)</text>
<text transform="translate(523.78,401.91) rotate(-90) scale(1.598,1)" font-family="Liberation Serif, serif" font-weight="bold" font-size="12.64" fill="#000" stroke="#000" stroke-width="0.45">(232)</text>
<text transform="translate(151.00,486.45) rotate(-90) scale(1.616,1)" font-family="Liberation Serif, serif" font-weight="bold" font-size="14.40" fill="#000" stroke="#000" stroke-width="0.45">(002)</text>
<text transform="translate(236.47,142.66) scale(1.458,1)" font-family="Liberation Serif, serif" font-weight="bold" font-size="16.00" fill="#ff0000">*</text>
<text transform="translate(255.07,112.46) scale(1.458,1)" font-family="Liberation Serif, serif" font-weight="bold" font-size="16.00" fill="#ff0000">*</text>
<text transform="translate(289.22,148.31) scale(1.458,1)" font-family="Liberation Serif, serif" font-weight="bold" font-size="16.00" fill="#ff0000">*</text>
<text transform="translate(366.87,158.66) scale(1.458,1)" font-family="Liberation Serif, serif" font-weight="bold" font-size="16.00" fill="#ff0000">*</text>
<text transform="translate(445.87,147.56) scale(1.458,1)" font-family="Liberation Serif, serif" font-weight="bold" font-size="16.00" fill="#ff0000">*</text>
<text transform="translate(520.57,153.26) scale(1.458,1)" font-family="Liberation Serif, serif" font-weight="bold" font-size="16.00" fill="#ff0000">*</text>
<polygon points="315.10,113.45 320.30,106.55 322.70,106.55 327.90,113.45 324.30,113.45 321.50,109.95 318.70,113.45" fill="#0000ff"/>
<polygon points="343.20,125.95 348.40,119.05 350.80,119.05 356.00,125.95 352.40,125.95 349.60,122.45 346.80,125.95" fill="#0000ff"/>
<polygon points="395.60,142.55 400.80,135.65 403.20,135.65 408.40,142.55 404.80,142.55 402.00,139.05 399.20,142.55" fill="#0000ff"/>
<polygon points="418.70,133.95 423.90,127.05 426.30,127.05 431.50,133.95 427.90,133.95 425.10,130.45 422.30,133.95" fill="#0000ff"/>
<polygon points="466.60,145.85 471.80,138.95 474.20,138.95 479.40,145.85 475.80,145.85 473.00,142.35 470.20,145.85" fill="#0000ff"/>
<polygon points="552.00,157.65 557.20,150.75 559.60,150.75 564.80,157.65 561.20,157.65 558.40,154.15 555.60,157.65" fill="#0000ff"/>
<polygon points="570.60,126.45 575.80,119.55 578.20,119.55 583.40,126.45 579.80,126.45 577.00,122.95 574.20,126.45" fill="#0000ff"/>
<polygon points="599.10,137.75 604.30,130.85 606.70,130.85 611.90,137.75 608.30,137.75 605.50,134.25 602.70,137.75" fill="#0000ff"/>
<polygon points="623.30,133.15 628.50,126.25 630.90,126.25 636.10,133.15 632.50,133.15 629.70,129.65 626.90,133.15" fill="#0000ff"/>
<path d="M137.60,142.13 C140.28,140.70 143.63,141.14 145.64,142.24 S149.66,142.46 151.00,141.14" fill="none" stroke="#ff00ff" stroke-width="2.6" stroke-linecap="round"/>
<path d="M135.30,254.29 C138.10,252.60 141.60,253.12 143.70,254.42 S147.90,254.68 149.30,253.12" fill="none" stroke="#000" stroke-width="1.6" stroke-linecap="round"/>
<rect x="399.60" y="0.50" width="284.80" height="27.60" fill="none" stroke="#555" stroke-width="1.2"/>
<line x1="411.90" y1="12.40" x2="475.20" y2="12.40" stroke="#00ff00" stroke-width="4.4" stroke-linecap="round"/>
<text transform="translate(482.79,17.82) scale(1.683,1)" font-family="Liberation Serif, serif" font-weight="bold" font-size="16.43" fill="#000">Bi</text>
<text transform="translate(508.79,24.60) scale(1.735,1)" font-family="Liberation Serif, serif" font-weight="bold" font-size="16.06" fill="#000">2</text>
<text transform="translate(521.44,18.43) scale(1.882,1)" font-family="Liberation Serif, serif" font-weight="bold" font-size="16.57" fill="#000">O</text>
<text transform="translate(544.69,24.44) scale(1.823,1)" font-family="Liberation Serif, serif" font-weight="bold" font-size="15.82" fill="#000">3</text>
<text transform="translate(559.09,18.81) scale(1.514,1)" font-family="Liberation Serif, serif" font-weight="bold" font-size="18.96" fill="#000">/CuO/GO</text>
<path d="M388.50,42.38 C393.00,39.00 398.62,40.04 402.00,42.64 S408.75,43.16 411.00,40.04" fill="none" stroke="#ff00ff" stroke-width="2.2" stroke-linecap="round"/>
<text transform="translate(417.85,49.13) scale(1.673,1)" font-family="Liberation Serif, serif" font-weight="bold" font-size="17.31" fill="#000">GO</text>
<text transform="translate(487.76,51.21) scale(1.517,1)" font-family="Liberation Serif, serif" font-weight="bold" font-size="22.13" fill="#ff0000">*</text>
<text transform="translate(513.79,51.11) scale(1.555,1)" font-family="Liberation Serif, serif" font-weight="bold" font-size="17.43" fill="#000">Bi</text>
<text transform="translate(539.00,57.70) scale(1.434,1)" font-family="Liberation Serif, serif" font-weight="bold" font-size="12.12" fill="#000">2</text>
<text transform="translate(546.24,51.43) scale(1.832,1)" font-family="Liberation Serif, serif" font-weight="bold" font-size="17.01" fill="#000">O</text>
<text transform="translate(569.48,57.88) scale(1.427,1)" font-family="Liberation Serif, serif" font-weight="bold" font-size="12.39" fill="#000">3</text>
<polygon points="601.80,42.85 608.75,34.85 610.35,34.85 617.30,42.85 614.80,42.85 609.55,37.15 604.30,42.85" fill="#0000ff"/>
<text transform="translate(627.32,50.13) scale(1.786,1)" font-family="Liberation Serif, serif" font-weight="bold" font-size="16.57" fill="#000">CuO</text>
<rect x="446.40" y="178.10" width="230.20" height="28.90" fill="none" stroke="#555" stroke-width="1.2"/>
<line x1="467.00" y1="191.30" x2="530.70" y2="191.30" stroke="#ff0000" stroke-width="4.4" stroke-linecap="round"/>
<text transform="translate(538.18,196.81) scale(1.555,1)" font-family="Liberation Serif, serif" font-weight="bold" font-size="17.86" fill="#000">Bi</text>
<text transform="translate(563.81,203.00) scale(1.853,1)" font-family="Liberation Serif, serif" font-weight="bold" font-size="16.06" fill="#000">2</text>
<text transform="translate(577.21,197.81) scale(1.613,1)" font-family="Liberation Serif, serif" font-weight="bold" font-size="18.51" fill="#000">O</text>
<text transform="translate(599.19,202.84) scale(1.823,1)" font-family="Liberation Serif, serif" font-weight="bold" font-size="15.82" fill="#000">3</text>
<text transform="translate(614.00,197.80) scale(1.463,1)" font-family="Liberation Serif, serif" font-weight="bold" font-size="20.30" fill="#000">/GO</text>
<path d="M573.50,233.18 C576.26,231.10 579.71,231.74 581.78,233.34 S585.92,233.66 587.30,231.74" fill="none" stroke="#000" stroke-width="1.4" stroke-linecap="round"/>
<text transform="translate(596.36,239.12) scale(1.575,1)" font-family="Liberation Sans, serif" font-weight="bold" font-size="18.17" fill="#000">GO</text>
<rect x="474.10" y="314.40" width="194.00" height="33.60" fill="none" stroke="#555" stroke-width="1.2"/>
<line x1="489.60" y1="329.90" x2="569.70" y2="329.90" stroke="#0000ff" stroke-width="4.6" stroke-linecap="round"/>
<text transform="translate(579.38,337.89) scale(1.617,1)" font-family="Liberation Serif, serif" font-weight="bold" font-size="21.43" fill="#000">Bi</text>
<text transform="translate(612.61,345.60) scale(1.522,1)" font-family="Liberation Serif, serif" font-weight="bold" font-size="14.55" fill="#000">2</text>
<text transform="translate(622.77,338.09) scale(1.864,1)" font-family="Liberation Serif, serif" font-weight="bold" font-size="20.75" fill="#000">O</text>
<text transform="translate(651.03,345.75) scale(1.479,1)" font-family="Liberation Serif, serif" font-weight="bold" font-size="14.78" fill="#000">3</text>
<rect x="534.30" y="471.20" width="130.40" height="22.20" fill="none" stroke="#555" stroke-width="1.2"/>
<line x1="544.20" y1="483.40" x2="606.70" y2="483.40" stroke="#ff8000" stroke-width="4.7" stroke-linecap="round"/>
<text transform="translate(614.64,489.53) scale(1.696,1)" font-family="Liberation Serif, serif" font-weight="bold" font-size="17.16" fill="#000">GO</text>
</svg></body></html>
